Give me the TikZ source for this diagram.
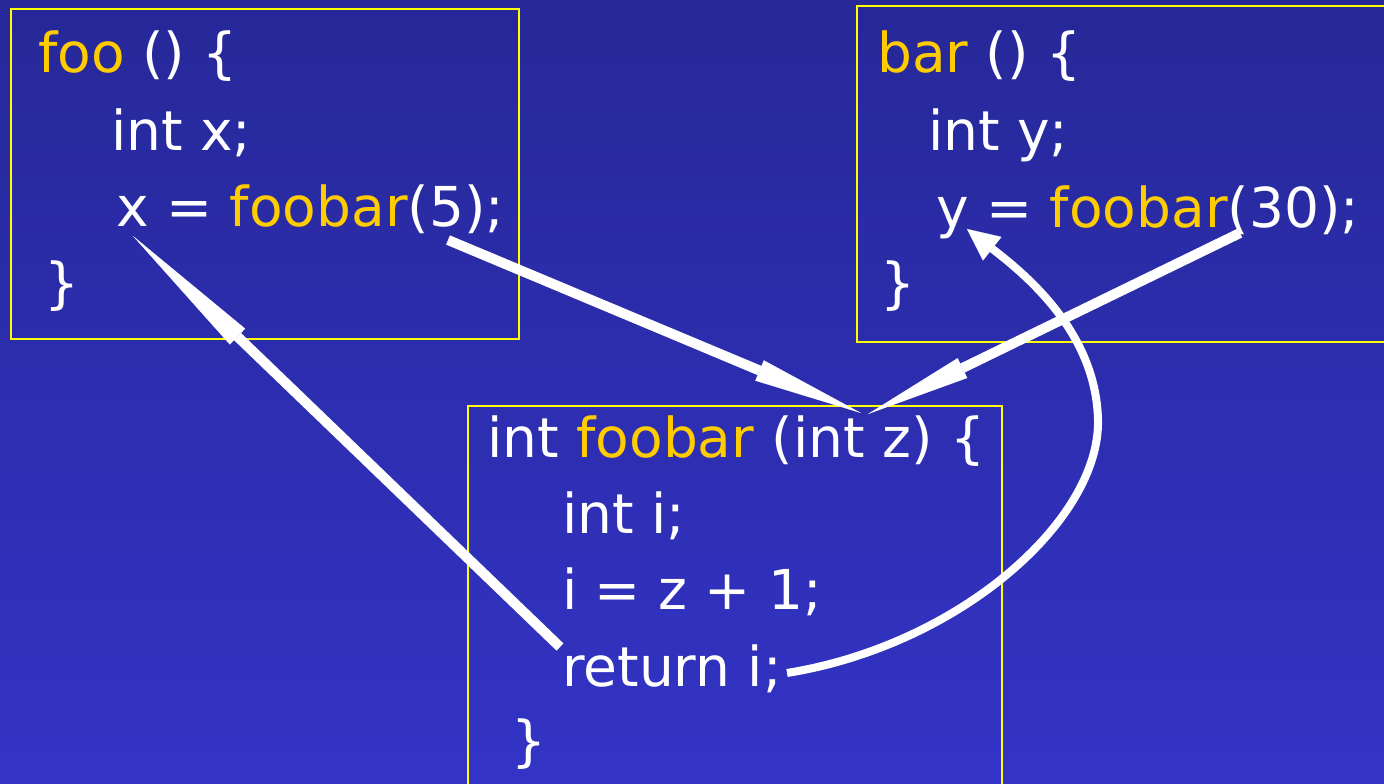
\documentclass[tikz,border=0pt]{standalone}
\usepackage{fontspec}
\setmainfont{DejaVu Sans}
\usetikzlibrary{arrows.meta}
\definecolor{bgtop}{RGB}{38,40,152}
\definecolor{bgbot}{RGB}{51,51,198}
\definecolor{kw}{RGB}{255,204,0}
\definecolor{framecol}{RGB}{255,255,0}
\begin{document}
\begin{tikzpicture}[x=1pt,y=-1pt,
  code/.style={anchor=base west, inner sep=0pt, text=white, font=\fontsize{55}{60}\selectfont},
  codebox/.style={draw=framecol, line width=2pt, anchor=north west, inner sep=0pt},
  flow/.style={draw=white, line width=10pt, line cap=butt},
  curveflow/.style={draw=white, line width=8pt, line cap=butt}
]
\useasboundingbox (0,0) rectangle (1384,784);
\shade[top color=bgtop, bottom color=bgbot] (0,0) rectangle (1384,784);
\begin{scope}
\clip (0,0) rectangle (1384,784);
% boxes
\node[codebox, minimum width=508pt, minimum height=330pt] (foobox) at (10,8) {};
\node[codebox, minimum width=534pt, minimum height=336pt] (barbox) at (856,5) {};
\node[codebox, minimum width=534pt, minimum height=400pt] (foobarbox) at (467,405) {};
% foo
\node[code] (foo1) at (38,73) {\textcolor{kw}{foo} () \{};
\node[code] (foo2) at (111,150) {int x;};
\node[code] (foo3) at (116,226) {x = \textcolor{kw}{foobar}(5);};
\node[code] (foo4) at (44,302) {\}};
% bar
\node[code] (bar1) at (877,73) {\textcolor{kw}{bar} () \{};
\node[code] (bar2) at (928,150) {int y;};
\node[code] (bar3) at (936,227) {y = \textcolor{kw}{foobar}(30);};
\node[code] (bar4) at (880,302) {\}};
% foobar
\node[code] (fb1) at (487,457) {int \textcolor{kw}{foobar} (int z) \{};
\node[code] (fb2) at (562,533) {int i;};
\node[code] (fb3) at (562,609) {i = z + 1;};
\node[code] (fb4) at (562,686) {return i;};
\node[code] (fb5) at (511,760) {\}};
% arrow end points
\coordinate (a1s) at (448,240);
\coordinate (a1e) at (861,413);
\coordinate (a2s) at (1240,233);
\coordinate (a2e) at (868,414);
\coordinate (a3s) at (560,647);
\coordinate (a3e) at (133,236);
\coordinate (a4s) at (787,673);
\coordinate (a4m) at (1098,420);
\coordinate (a4e) at (967,229);
% arrows
\draw[flow, -{Triangle[length=110pt,width=22pt,line width=0.1pt]}] (a1s) -- (a1e);
\draw[flow, -{Triangle[length=105pt,width=22pt,line width=0.1pt]}] (a2s) -- (a2e);
\draw[flow, -{Triangle[length=145pt,width=22pt,line width=0.1pt]}] (a3s) -- (a3e);
\draw[curveflow, -{Triangle[length=32pt,width=30pt,line width=0.1pt]}] (a4s) .. controls (960,645) and (1100,520) .. (a4m) .. controls (1096,330) and (1022,272) .. (a4e);
\end{scope}
\end{tikzpicture}
\end{document}
